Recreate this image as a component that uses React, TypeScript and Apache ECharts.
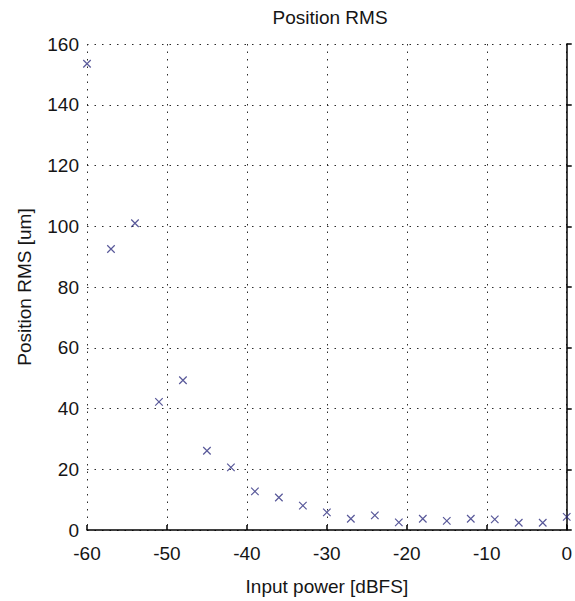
import React, { useEffect, useRef } from "react";
import * as echarts from "echarts";

const inputPower = [-60, -57, -54, -51, -48, -45, -42, -39, -36, -33, -30, -27, -24, -21, -18, -15, -12, -9, -6, -3, 0];
const positionRms = [153.5, 92.5, 101, 42.2, 49.3, 26.1, 20.6, 12.7, 10.7, 8.0, 5.8, 3.7, 4.8, 2.5, 3.7, 3.0, 3.7, 3.5, 2.4, 2.4, 4.3];
const titleText = "Position RMS";
const xName = "Input power [dBFS]";
const yName = "Position RMS [um]";

const FONT = "'Liberation Sans', Arial, sans-serif";
const FS = 19;
const TXT = "#151515";

export default function App() {
  const ref = useRef<HTMLDivElement>(null);
  useEffect(() => {
    if (!ref.current) return;
    const chart = echarts.init(ref.current, null, { renderer: "svg" });
    const data = inputPower.map((x, i) => [x, positionRms[i]]);
    const grid = { color: "#2a2a2a", width: 1, type: [1.5, 6] as any };
    chart.setOption({
      animation: false,
      backgroundColor: "#ffffff",
      title: {
        text: titleText,
        left: 325,
        top: 3,
        textAlign: "center",
        textStyle: { fontFamily: FONT, fontSize: FS, fontWeight: "normal", color: TXT },
      },
      grid: { left: 87, right: 3, top: 44, bottom: 69, containLabel: false },
      xAxis: {
        type: "value",
        min: -60,
        max: 0,
        interval: 10,
        name: xName,
        nameLocation: "middle",
        nameGap: 47,
        nameTextStyle: { fontFamily: FONT, fontSize: FS, color: TXT },
        axisLine: { show: true, onZero: false, lineStyle: { color: "#000", width: 1.5 } },
        axisTick: { show: true, inside: true, length: 5, lineStyle: { color: "#000", width: 1.5 } },
        axisLabel: { fontFamily: FONT, fontSize: FS, color: TXT, margin: 14 },
        splitLine: { show: true, lineStyle: grid },
      },
      yAxis: {
        type: "value",
        min: 0,
        max: 160,
        interval: 20,
        name: yName,
        nameLocation: "middle",
        nameGap: 53,
        nameTextStyle: { fontFamily: FONT, fontSize: FS, color: TXT },
        axisLine: { show: true, lineStyle: { color: "#000", width: 1.5 } },
        axisTick: { show: true, inside: true, length: 5, lineStyle: { color: "#000", width: 1.5 } },
        axisLabel: { fontFamily: FONT, fontSize: FS, color: TXT, margin: 8 },
        splitLine: { show: true, lineStyle: grid },
      },
      series: [
        {
          type: "scatter",
          data,
          symbol: "path://M0,0L10,10M10,0L0,10",
          symbolSize: 7.5,
          itemStyle: { color: "transparent", borderColor: "#2e2e80", borderWidth: 1.2 },
        },
      ],
    });
    return () => chart.dispose();
  }, []);
  return (
    <div
      ref={ref}
      style={{ position: "absolute", left: 0, top: 0, width: 575, height: 601, background: "#fff" }}
    />
  );
}
